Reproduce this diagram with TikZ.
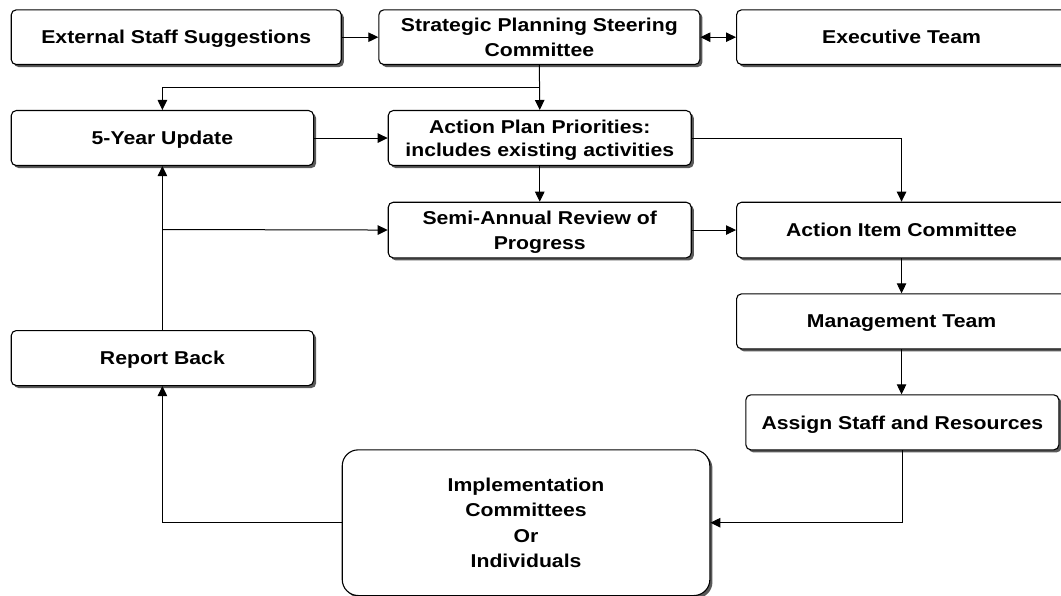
\documentclass[tikz,border=0pt]{standalone}
\usepackage{fontspec}
\setmainfont{Liberation Sans}[FakeStretch=1.14]
\usetikzlibrary{arrows.meta,shadows}
\begin{document}
\begin{tikzpicture}[x=1pt,y=-1pt,
  box/.style={draw=black, line width=1.1pt, fill=white, rounded corners=5pt,
    anchor=north west, inner sep=0pt, align=center, text depth=0pt,
    font=\fontsize{18.6}{25}\selectfont\bfseries,
    drop shadow={shadow xshift=2.6pt, shadow yshift=-2.6pt, fill=black!65, opacity=1}},
  arr/.style={draw=black, line width=1pt, -{Triangle[length=10pt,width=9.5pt]}},
  dbl/.style={draw=black, line width=1pt, {Triangle[length=10pt,width=9.5pt]}-{Triangle[length=10pt,width=9.5pt]}},
  ln/.style={draw=black, line width=1pt}]
\useasboundingbox[fill=white] (0,0) rectangle (1061,596);
\node[box, minimum width=330pt, minimum height=54.7pt] (ext) at (10.7,9.3) {External Staff Suggestions};
\node[box, minimum width=321pt, minimum height=54.7pt] (strat) at (378.3,9.3) {Strategic Planning Steering\\Committee};
\node[box, minimum width=330pt, minimum height=54.7pt] (exec) at (736,9.3) {Executive Team};
\node[box, minimum width=302.3pt, minimum height=55pt] (five) at (10.7,110) {5-Year Update};
\node[box, minimum width=303pt, minimum height=55pt, font=\fontsize{18.6}{23.5}\selectfont\bfseries] (act) at (387.7,110) {Action Plan Priorities:\\includes existing activities};
\node[box, minimum width=303pt, minimum height=55.6pt] (semi) at (387.7,201.7) {Semi-Annual Review of\\Progress};
\node[box, minimum width=330pt, minimum height=55.6pt] (aic) at (736,201.7) {Action Item Committee};
\node[box, minimum width=330pt, minimum height=55pt] (mgmt) at (736,293.3) {Management Team};
\node[box, minimum width=313pt, minimum height=55pt] (assign) at (745.3,394.3) {Assign Staff and Resources};
\node[box, minimum width=302.3pt, minimum height=55pt] (report) at (10.7,330) {Report Back};
\node[box, rounded corners=16pt, minimum width=367.6pt, minimum height=145.7pt,
  font=\fontsize{18.6}{25.5}\selectfont\bfseries] (impl) at (341.7,449.3) {Implementation\\Committees\\Or\\Individuals};
\coordinate (j1) at (538.8,87.3);
\coordinate (j2) at (162,229.5);
\draw[arr] (ext) -- (strat);
\draw[dbl] (strat) -- (exec);
\draw[arr] (strat.south) -- (act.north);
\draw[arr] (j1) -| (five.north);
\draw[arr] (five.east) -- (five.east -| act.west);
\draw[arr] (act.east) -| (aic.north);
\draw[arr] (act.south) -- (semi.north);
\draw[arr] (semi.east) -- (aic.west);
\draw[arr] (aic) -- (mgmt);
\draw[arr] (mgmt.south) -- (mgmt.south |- assign.north);
\draw[arr] (assign.south) |- (impl.east);
\draw[arr] (impl.west) -| (report.south);
\draw[arr] (report.north) -- (five.south);
\draw[arr] (j2) -- (semi.west);
\end{tikzpicture}
\end{document}
